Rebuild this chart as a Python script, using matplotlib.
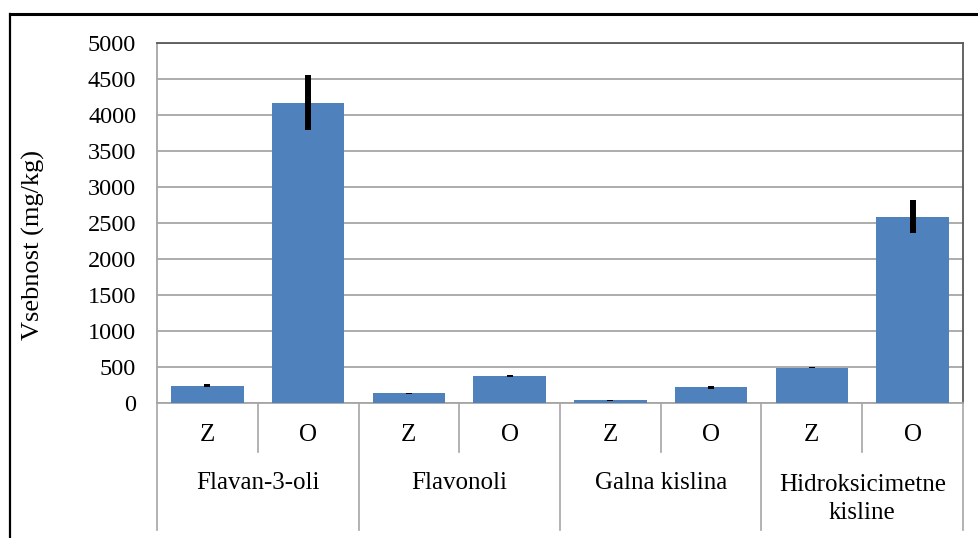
import numpy as np
import matplotlib.pyplot as plt
from matplotlib.lines import Line2D

plt.rcParams['font.family'] = ['Liberation Serif', 'DejaVu Serif']

groups = ["Flavan-3-oli", "Flavonoli", "Galna kislina", "Hidroksicimetne\nkisline"]
sub = ["Z", "O"]
values = [240, 4170, 135, 380, 38, 220, 492, 2590]
errors = [20, 380, 8, 15, 8, 20, 10, 225]
yticks = [0, 500, 1000, 1500, 2000, 2500, 3000, 3500, 4000, 4500, 5000]

W, H = 979, 538
fig = plt.figure(figsize=(W / 100, H / 100), dpi=100)

# outer frame (left and top only visible)
fig.add_artist(Line2D([10 / W, 10 / W], [0, 1 - 14 / H], color='black', lw=1.6, transform=fig.transFigure))
fig.add_artist(Line2D([10 / W, 1], [1 - 14 / H, 1 - 14 / H], color='black', lw=2.2, transform=fig.transFigure))

x0, x1, ytop, ybot = 157, 963, 43, 403
ax = fig.add_axes([x0 / W, 1 - ybot / H, (x1 - x0) / W, (ybot - ytop) / H])

n = len(values)
x = np.arange(n)
ax.bar(x, values, width=0.72, color='#4F81BD', zorder=3)
ax.errorbar(x, values, yerr=errors, fmt='none', ecolor='black', elinewidth=4.3, capsize=0, zorder=4)

ax.set_xlim(-0.5, n - 0.5)
ax.set_ylim(0, 5000)
ax.set_yticks(yticks)
ax.set_yticklabels([str(t) for t in yticks], fontsize=17.5)
ax.tick_params(axis='y', length=0, pad=15)
ax.set_xticks([])
ax.yaxis.grid(True, color='#a6a6a6', lw=1.3, zorder=0)
ax.set_axisbelow(True)
for side in ['top', 'right']:
    ax.spines[side].set_color('#595959')
    ax.spines[side].set_linewidth(1.3)
for side in ['left', 'bottom']:
    ax.spines[side].set_color('#a6a6a6')
    ax.spines[side].set_linewidth(1.3)

ax.set_ylabel("Vsebnost (mg/kg)", fontsize=19)
ax.yaxis.set_label_coords(-(157 - 45) / (x1 - x0), 0.44)

# category axis below the plot
h = ybot - ytop
def yf(py):
    return -(py - ybot) / h

tr = ax.get_xaxis_transform()
for i in range(n + 1):
    yb = 530 if i % 2 == 0 else 452
    ax.add_line(Line2D([i - 0.5, i - 0.5], [0, yf(yb)], color='#a6a6a6', lw=1.2,
                       transform=tr, clip_on=False))
for i in range(n):
    ax.text(i, yf(435), sub[i % 2], transform=tr, ha='center', va='center', fontsize=18)
for g, name in enumerate(groups):
    if '\n' in name:
        ax.text(2 * g + 0.5, yf(499), name, transform=tr, ha='center', va='center',
                fontsize=18, linespacing=1.3)
    else:
        ax.text(2 * g + 0.5, yf(483), name, transform=tr, ha='center', va='center', fontsize=18)

fig.savefig("out.png", dpi=100)
